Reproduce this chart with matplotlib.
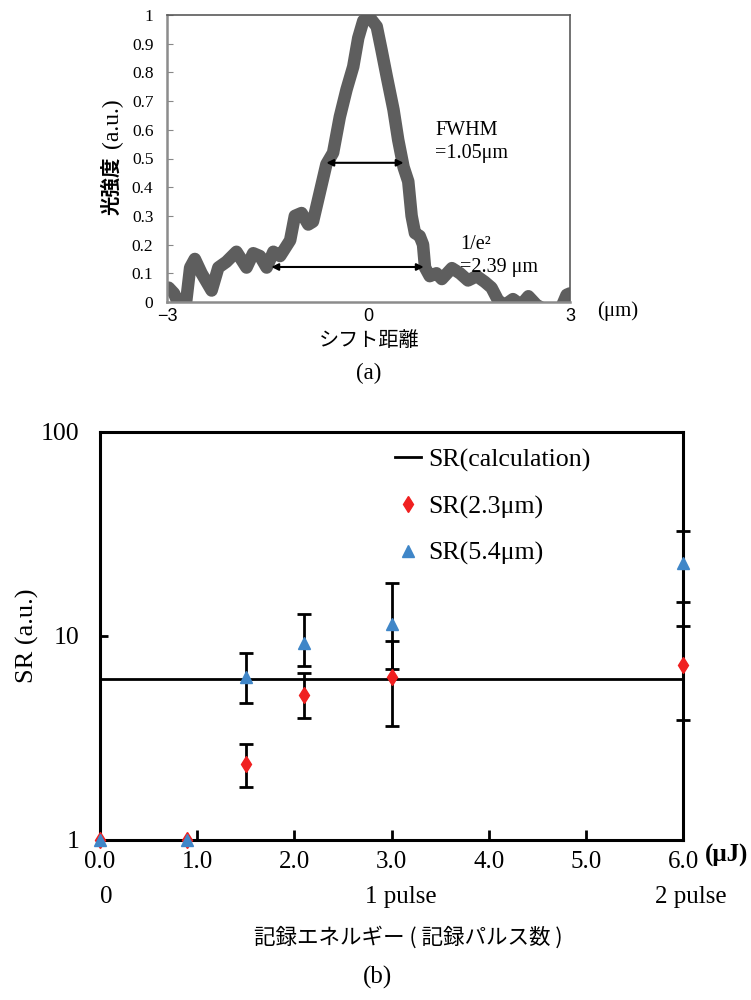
import matplotlib.pyplot as plt
import numpy as np

# (a) beam profile
shift_um = [-2.98, -2.9, -2.81, -2.73, -2.66, -2.59, -2.49, -2.34, -2.24, -2.12,
            -1.97, -1.82, -1.72, -1.62, -1.52, -1.42, -1.32, -1.17, -1.10, -1.0,
            -0.90, -0.83, -0.73, -0.63, -0.53, -0.43, -0.33, -0.23, -0.155, -0.08,
            0.02, 0.12, 0.19, 0.27, 0.37, 0.44, 0.52, 0.59, 0.64, 0.69,
            0.76, 0.81, 0.84, 0.91, 1.01, 1.09, 1.24, 1.36, 1.48, 1.61,
            1.73, 1.83, 1.93, 2.03, 2.15, 2.27, 2.38, 2.50, 2.65, 2.85, 2.95, 3.0]
intensity = [0.05, 0.03, -0.02, -0.02, 0.12, 0.15, 0.10, 0.04, 0.12, 0.14,
             0.175, 0.12, 0.17, 0.16, 0.12, 0.175, 0.16, 0.215, 0.30, 0.31,
             0.27, 0.28, 0.38, 0.48, 0.52, 0.645, 0.74, 0.82, 0.92, 0.98,
             0.99, 0.96, 0.88, 0.785, 0.67, 0.565, 0.47, 0.42, 0.30, 0.24,
             0.23, 0.20, 0.12, 0.09, 0.10, 0.08, 0.118, 0.10, 0.075, 0.09,
             0.07, 0.05, 0.005, -0.01, 0.01, -0.01, 0.02, -0.01, -0.03, -0.03, 0.025, 0.03]
fwhm_span = [-0.63, 0.52]
fwhm_level = 0.485
e2_span = [-1.45, 0.82]
e2_level = 0.122

# (b) SR vs recording energy
energy = [0.0, 0.9, 1.5, 2.1, 3.0, 6.0]
sr_23 = [1.0, 1.0, 2.36, 5.13, 6.32, 7.2]
sr_23_hi = [np.nan, np.nan, 2.95, 6.56, 9.48, 11.2]
sr_23_lo = [np.nan, np.nan, 1.82, 3.95, 3.62, 3.87]
sr_54 = [1.0, 1.0, 6.32, 9.21, 11.5, 22.9]
sr_54_hi = [np.nan, np.nan, 8.23, 12.8, 18.2, 32.8]
sr_54_lo = [np.nan, np.nan, 4.68, 7.14, 6.87, 14.6]
sr_calc = 6.15
pulse_pos = [0.06, 3.1, 6.08]
pulse_labels = ['0', '1 pulse', '2 pulse']

serif = 'Liberation Serif'
cjk = 'Noto Sans CJK JP'

fig = plt.figure(figsize=(7.51, 10), dpi=100)

# ---------------- (a)
ax1 = fig.add_axes([0.2228, 0.698, 0.5362, 0.287])
ax1.plot(shift_um, intensity, color='#5e5e5e', lw=9, solid_capstyle='round',
         solid_joinstyle='round')
ax1.set_xlim(-3, 3)
ax1.set_ylim(0, 1)
ax1.set_yticks(np.arange(0, 1.01, 0.1))
ax1.set_yticklabels(['0'] + ['%.1f' % v for v in np.arange(0.1, 0.95, 0.1)] + ['1'],
                    family=serif, fontsize=12.5)
ax1.set_xticks([-3, 0, 3])
ax1.set_xticklabels(['\u22123', '0', '3'], family='Liberation Sans', fontsize=13)
ax1.tick_params(axis='y', direction='in', length=4, pad=10, color='#888888')
ax1.tick_params(axis='x', length=0, pad=4)
for s in ['left', 'bottom']:
    ax1.spines[s].set_color('#8c8c8c')
    ax1.spines[s].set_linewidth(1.8)
for s in ['top', 'right']:
    ax1.spines[s].set_color('#5a5a5a')
    ax1.spines[s].set_linewidth(1.2)

ax1.annotate('', xy=(fwhm_span[0], fwhm_level), xytext=(fwhm_span[1], fwhm_level),
             arrowprops=dict(arrowstyle='<|-|>', color='black', lw=1.5, mutation_scale=10,
                             shrinkA=0, shrinkB=0))
ax1.annotate('', xy=(e2_span[0], e2_level), xytext=(e2_span[1], e2_level),
             arrowprops=dict(arrowstyle='<|-|>', color='black', lw=1.5, mutation_scale=10,
                             shrinkA=0, shrinkB=0))
ax1.text(0.99, 0.63, 'FWHM\n=1.05\u03bcm', family=serif, fontsize=14.5, va='top',
         linespacing=1.3)
ax1.text(1.36, 0.235, '1/e\u00b2\n=2.39 \u03bcm', family=serif, fontsize=14.5, va='top',
         linespacing=1.3)

ax1.text(-0.137, 0.404, '光強度', family=cjk, fontsize=14, fontweight='bold',
         rotation=90, ha='center', va='center', transform=ax1.transAxes)
ax1.text(-0.137, 0.622, '(a.u.)', family=serif, fontsize=17,
         rotation=90, ha='center', va='center', transform=ax1.transAxes)
fig.text(618 / 751, 1 - 311 / 1000, '(\u03bcm)', family=serif, fontsize=15,
         ha='center', va='center')
fig.text(368.7 / 751, 1 - 340 / 1000, 'シフト距離', family=cjk, fontsize=14.5,
         ha='center', va='center')
fig.text(368.7 / 751, 1 - 373 / 1000, '(a)', family=serif, fontsize=16.5,
         ha='center', va='center')

# ---------------- (b)
ax2 = fig.add_axes([0.1332, 0.160, 0.7763, 0.408])
ax2.set_yscale('log')
ax2.set_xlim(0, 6)
ax2.set_ylim(1, 100)

e = np.array(energy)
for vals, hi, lo in [(sr_23, sr_23_hi, sr_23_lo), (sr_54, sr_54_hi, sr_54_lo)]:
    v = np.array(vals)
    yerr = np.vstack([v - np.array(lo), np.array(hi) - v])
    ax2.errorbar(e, v, yerr=yerr, fmt='none', ecolor='black', elinewidth=2,
                 capsize=5, capthick=2, zorder=3, clip_on=False)

ax2.axhline(sr_calc, color='black', lw=2, label='SR(calculation)', zorder=2)
ax2.plot(energy, sr_23, ls='none', marker='d', ms=8, color='#f02020',
         label='SR(2.3\u03bcm)', zorder=4, clip_on=False)
ax2.plot(energy, sr_54, ls='none', marker='^', ms=8, color='#3f86c8',
         label='SR(5.4\u03bcm)', zorder=5, clip_on=False)

ax2.set_xticks(range(7))
ax2.set_xticklabels(['%.1f' % v for v in range(7)], family=serif, fontsize=18)
ax2.set_yticks([1, 10, 100])
ax2.set_yticklabels(['1', '10', '100'], family=serif, fontsize=18.5)
ax2.minorticks_off()
ax2.tick_params(axis='x', direction='in', length=7, width=2, pad=8)
ax2.tick_params(axis='y', direction='in', length=6, width=2, pad=15)
for s in ax2.spines.values():
    s.set_linewidth(2.2)
ax2.set_ylabel('SR (a.u.)', family=serif, fontsize=19, labelpad=1)

leg = ax2.legend(loc='upper left', bbox_to_anchor=(0.488, 0.985), frameon=False,
                 prop={'family': serif, 'size': 18.6}, handlelength=1.0,
                 handletextpad=0.3, labelspacing=0.9, borderaxespad=0)

for xp, lab in zip(pulse_pos, pulse_labels):
    ax2.text(xp, -0.14, lab, family=serif, fontsize=18, ha='center', va='center',
             transform=ax2.get_xaxis_transform())
fig.text(705 / 751, 1 - 855 / 1000, '(\u03bcJ)', family=serif, fontsize=18,
         fontweight='bold', ha='left', va='center')
fig.text(408 / 751, 1 - 937 / 1000, '記録エネルギー ( 記録パルス数 )', family=cjk,
         fontsize=15.5, ha='center', va='center')
fig.text(378 / 751, 1 - 977 / 1000, '(b)', family=serif, fontsize=18,
         ha='center', va='center')

fig.savefig('out.png', dpi=100)
